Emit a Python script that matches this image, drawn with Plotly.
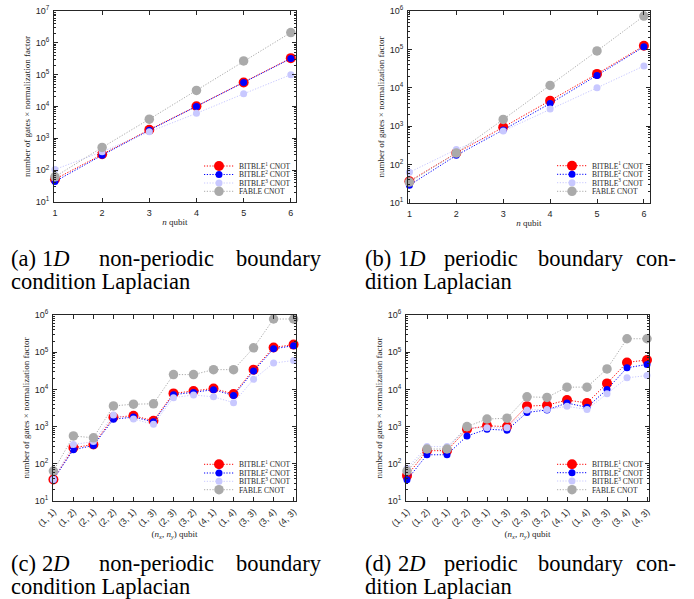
import plotly.graph_objects as go

W, H = 694, 599

# ---------------- data ----------------
n_qubits = [1, 2, 3, 4, 5, 6]
cats2d = ["(1, 1)", "(1, 2)", "(2, 1)", "(2, 2)", "(3, 1)", "(1, 3)", "(2, 3)",
          "(3, 2)", "(4, 1)", "(1, 4)", "(3, 3)", "(3, 4)", "(4, 3)"]

series_names = ["BITBLE<sup>1</sup> CNOT", "BITBLE<sup>2</sup> CNOT",
                "BITBLE<sup>3</sup> CNOT", "FABLE CNOT"]

ytick_vals = [10, 100, 1000, 10000, 100000, 1000000, 10000000]
ytick_text = ["10<sup>1</sup>", "10<sup>2</sup>", "10<sup>3</sup>", "10<sup>4</sup>",
              "10<sup>5</sup>", "10<sup>6</sup>", "10<sup>7</sup>"]

a_b1 = [52, 316, 1870, 10200, 57000, 330000]
a_b2 = [44, 295, 1800, 10000, 57000, 320000]
a_b3 = [105, 380, 1600, 6100, 25000, 100000]
a_fable = [62, 516, 4000, 32000, 270000, 2100000]

b_b1 = [37, 200, 940, 4600, 23000, 124000]
b_b2 = [29, 174, 800, 3900, 21000, 117000]
b_b3 = [63, 248, 750, 2800, 10000, 37000]
b_fable = [35, 200, 1500, 11500, 91000, 740000]

c_b1 = [38, 270, 330, 1780, 1960, 1440, 7800, 9000, 10600, 7500, 34000, 134000, 160000]
c_b2 = [38, 240, 310, 1580, 1800, 1350, 7200, 8300, 9800, 6900, 31000, 123000, 150000]
c_b3 = [38, 330, 395, 2050, 1600, 1150, 6000, 7100, 6300, 4400, 18600, 51000, 60000]
c_fable = [64, 560, 500, 3600, 4000, 4100, 25000, 25000, 34000, 34000, 131000, 780000, 780000]

d_b1 = [48, 225, 225, 850, 1050, 1000, 3550, 3750, 5200, 4300, 14500, 53000, 62000]
d_b2 = [37, 175, 175, 560, 850, 800, 2400, 2800, 4300, 3300, 10000, 38000, 47000]
d_b3 = [76, 290, 290, 930, 930, 930, 2800, 2900, 3500, 2900, 7600, 20500, 23500]
d_fable = [64, 250, 250, 1000, 1600, 1680, 6300, 6100, 11500, 11500, 35500, 230000, 230000]

captions = [
    (["(a)", "1<i>D</i>", "non-periodic", "boundary"], "condition Laplacian"),
    (["(b)", "1<i>D</i>", "periodic", "boundary", "con-"], "dition Laplacian"),
    (["(c)", "2<i>D</i>", "non-periodic", "boundary"], "condition Laplacian"),
    (["(d)", "2<i>D</i>", "periodic", "boundary", "con-"], "dition Laplacian"),
]

# ---------------- style ----------------
colors = ["#ff0000", "#0000ff", "#c8c8ff", "#aaaaaa"]
msizes = [10, 7, 7, 9.5]
AX = "#262626"
SERIF = "Liberation Serif, Times New Roman, serif"
SANS = "Liberation Sans, Arial, sans-serif"
DOT = "1.2px,1.6px"

# panel boxes in pixels: x0, x1, y0(top), y1(bottom)
boxes = [(54, 296, 11, 202), (408, 650, 11, 203), (53, 296, 315, 501), (406, 649, 315, 501)]
legend_left = [199, 552, 199, 552]
legend_y = [[166, 174.5, 183, 191.3], [165.7, 174.3, 182.7, 191.3],
            [464.3, 473, 481.3, 489.7], [464.3, 472.7, 481, 489.7]]

panels = [
    (n_qubits, [a_b1, a_b2, a_b3, a_fable], [1, 7], "<i>n</i> qubit"),
    (n_qubits, [b_b1, b_b2, b_b3, b_fable], [1, 6], "<i>n</i> qubit"),
    (cats2d, [c_b1, c_b2, c_b3, c_fable], [1, 6], "(<i>n<sub>x</sub></i>, <i>n<sub>y</sub></i>) qubit"),
    (cats2d, [d_b1, d_b2, d_b3, d_fable], [1, 6], "(<i>n<sub>x</sub></i>, <i>n<sub>y</sub></i>) qubit"),
]
xranges = [[0.98, 6.11], [0.97, 6.13], [-0.02, 12.12], [-0.05, 12.1]]

fig = go.Figure()
layout = dict(width=W, height=H, margin=dict(l=0, r=0, t=0, b=0, autoexpand=False),
              paper_bgcolor="white", plot_bgcolor="white", showlegend=True)

leg_idx = 0
annotations = []
for p, (xs, ys_list, yr, xtitle) in enumerate(panels):
    k = "" if p == 0 else str(p + 1)
    x0, x1, y0, y1 = boxes[p]
    is2d = p >= 2
    xaxis = dict(domain=[x0 / W, x1 / W], anchor="y" + k, range=xranges[p],
                 showline=True, linecolor=AX, linewidth=1, mirror="ticks",
                 ticks="inside", ticklen=4, tickcolor=AX, showgrid=False, zeroline=False,
                 tickfont=dict(family=SANS, size=9, color=AX), automargin=False,
                 title=dict(text=xtitle, font=dict(family=SERIF, size=9, color=AX), standoff=1))
    if is2d:
        xaxis.update(type="category", tickangle=-45, ticklabelstandoff=1)
    else:
        xaxis.update(tickmode="array", tickvals=n_qubits, ticklabelstandoff=2)
    nt = yr[1]
    yaxis = dict(domain=[1 - y1 / H, 1 - y0 / H], anchor="x" + k, type="log", range=yr,
                 tickmode="array", tickvals=ytick_vals[:nt], ticktext=ytick_text[:nt],
                 showline=True, linecolor=AX, linewidth=1, mirror="ticks",
                 ticks="inside", ticklen=4, tickcolor=AX, showgrid=False, zeroline=False,
                 minor=dict(dtick="D1", ticks="inside", ticklen=2, tickcolor=AX, showgrid=False),
                 tickfont=dict(family=SANS, size=9, color=AX), ticklabelstandoff=2,
                 automargin=False,
                 title=dict(text="number of gates × normalization factor",
                            font=dict(family=SERIF, size=9, color=AX), standoff=3))
    layout["xaxis" + k] = xaxis
    layout["yaxis" + k] = yaxis

    for s in range(4):
        leg_idx += 1
        lname = "legend" if leg_idx == 1 else "legend%d" % leg_idx
        fig.add_trace(go.Scatter(
            x=xs, y=ys_list[s], name=series_names[s], mode="lines+markers",
            line=dict(color=colors[s], width=1, dash=DOT),
            marker=dict(color=colors[s], size=msizes[s], symbol="circle"),
            xaxis="x" + k, yaxis="y" + k, legend=lname, cliponaxis=False))
        layout[lname] = dict(x=legend_left[p] / W, xanchor="left",
                             y=1 - legend_y[p][s] / H, yanchor="middle",
                             bgcolor="rgba(0,0,0,0)", borderwidth=0,
                             font=dict(family=SERIF, size=7.5, color=AX),
                             itemwidth=30, tracegroupgap=0)

# ---------------- captions ----------------
cap_font = dict(family=SERIF, size=22.5, color="black")
word_x = [
    [9, 40, 97, 324],
    [363, 396, 442, 536, 678],
    [9, 40, 97, 324],
    [363, 396, 442, 536, 678],
]
base_y = [(265, 288), (265, 288), (570, 593), (570, 593)]
for i, (words, line2) in enumerate(captions):
    b1, b2 = base_y[i]
    n = len(words)
    for j, w in enumerate(words):
        last = (j == n - 1)
        annotations.append(dict(text=w, xref="paper", yref="paper", showarrow=False,
                                x=word_x[i][j] / W, xanchor="right" if last else "left",
                                y=1 - (b1 - 7) / H, yanchor="middle", font=cap_font))
    annotations.append(dict(text=line2, xref="paper", yref="paper", showarrow=False,
                            x=word_x[i][0] / W, xanchor="left",
                            y=1 - (b2 - 7) / H, yanchor="middle", font=cap_font))

layout["annotations"] = annotations
fig.update_layout(**layout)
fig.write_html("out.html", config={"displayModeBar": False},
               post_script="document.body.style.margin='0px';")
